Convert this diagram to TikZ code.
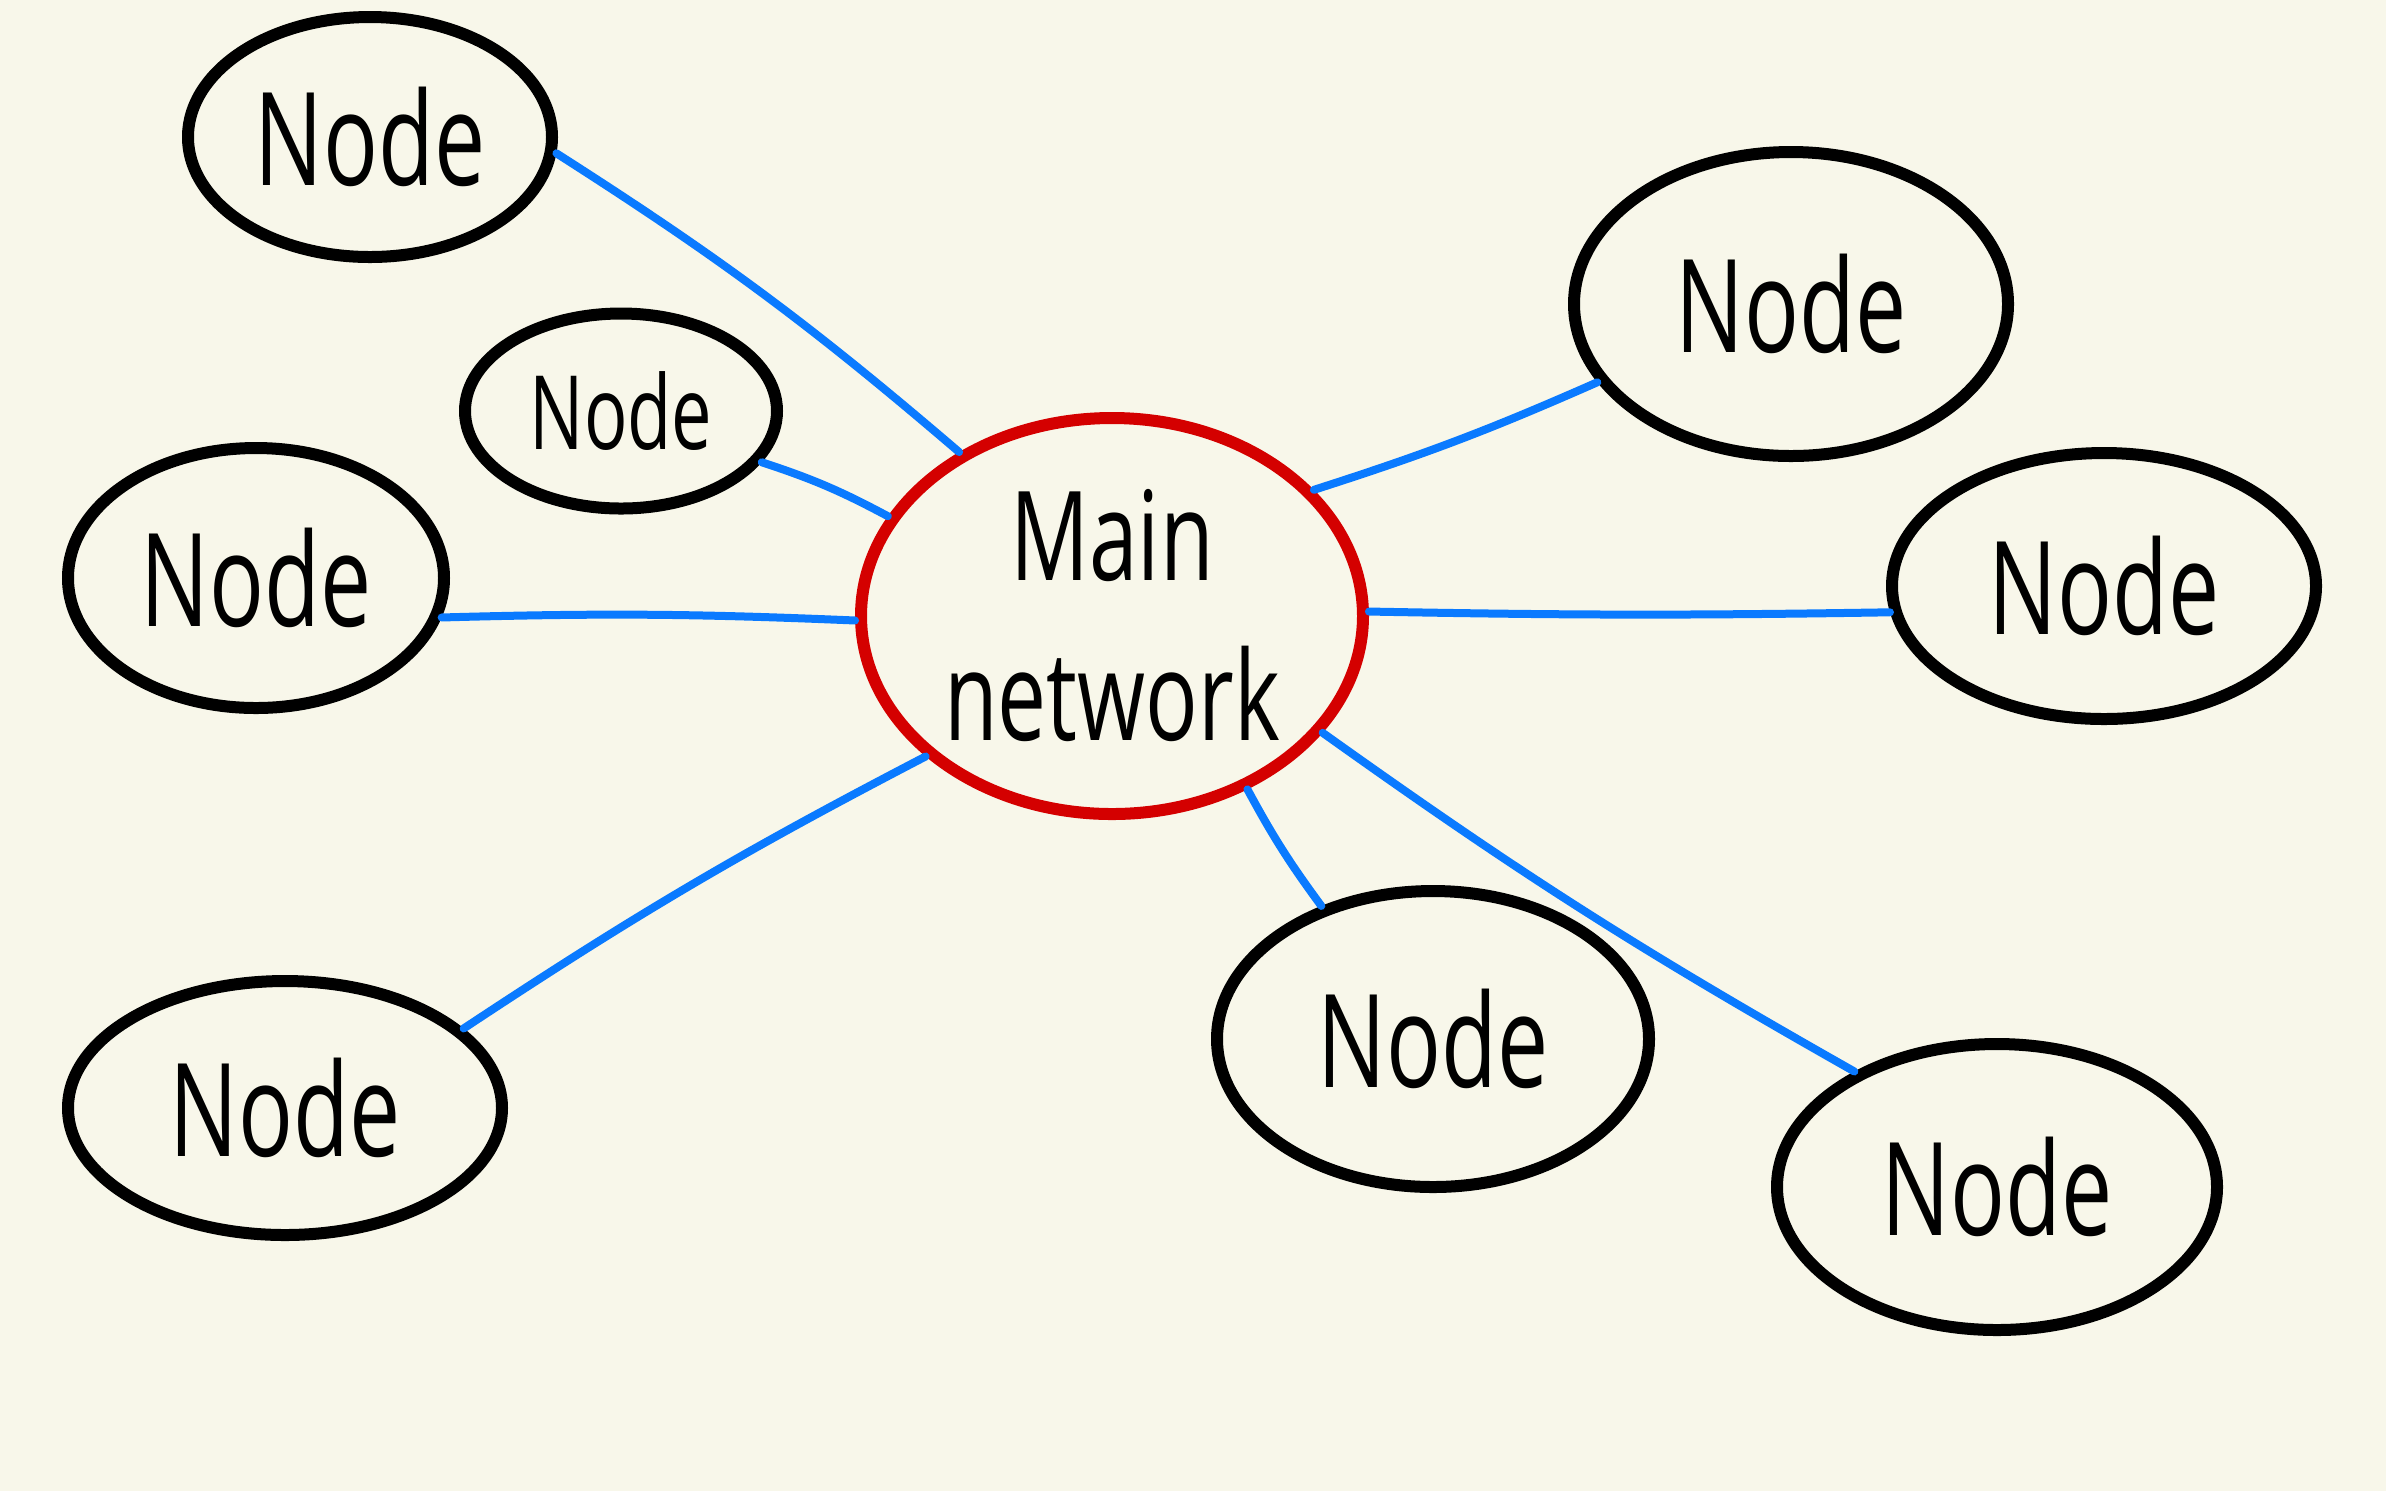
\documentclass[tikz,border=0pt]{standalone}
\usepackage{fontspec}
\setmainfont{Open Sans}
\usetikzlibrary{shapes.geometric}
\definecolor{bgc}{HTML}{F8F7EA}
\definecolor{redc}{HTML}{D40000}
\definecolor{bluec}{HTML}{0A7AFF}
\newcommand{\tallt}[1]{\scalebox{0.95}[1.35]{#1}}
\tikzset{
  nd/.style={ellipse, draw=black, line width=3pt, inner sep=0pt, font=\fontsize{24}{28}\selectfont},
  mainnd/.style={ellipse, draw=redc, line width=3pt, inner sep=0pt, align=center, font=\fontsize{23}{40}\selectfont},
  link/.style={draw=bluec, line width=2pt, line cap=round}
}
\begin{document}
\begin{tikzpicture}[x=0.25pt,y=-0.25pt]
\fill[bgc] (0,0) rectangle (2386,1491);
\useasboundingbox (0,0) rectangle (2386,1491);
\node[mainnd, minimum width=125.5pt, minimum height=99pt] (main) at (1112,616) {\tallt{Main}\\\tallt{network}};
\node[nd, minimum width=91pt, minimum height=60pt] (n1) at (370,137) {\tallt{Node}};
\node[nd, minimum width=78pt, minimum height=48.75pt, font=\fontsize{19}{22}\selectfont] (n2) at (621,411) {\tallt{Node}};
\node[nd, minimum width=94pt, minimum height=65pt] (n3) at (256,578) {\tallt{Node}};
\node[nd, minimum width=108.5pt, minimum height=63.5pt] (n4) at (285,1108) {\tallt{Node}};
\node[nd, minimum width=108pt, minimum height=74pt] (n5) at (1433,1039) {\tallt{Node}};
\node[nd, minimum width=110pt, minimum height=71.5pt] (n6) at (1997,1187) {\tallt{Node}};
\node[nd, minimum width=108.5pt, minimum height=76pt] (n7) at (1791,304) {\tallt{Node}};
\node[nd, minimum width=106pt, minimum height=66.5pt] (n8) at (2104,586) {\tallt{Node}};
\draw[link] (n1.-5) to[bend left=4] (main.133);
\draw[link] (n2.-20) to[bend left=5] (main.156);
\draw[link] (n3.-12) to[bend left=2] (main.181);
\draw[link] (n4.24) to[bend left=3] (main.217);
\draw[link] (n5.130) to[bend left=4] (main.308);
\draw[link] (n6.141) to[bend left=3] (main.331);
\draw[link] (n7.202) to[bend left=3] (main.32);
\draw[link] (n8.187) to[bend left=1] (main.1);
\end{tikzpicture}
\end{document}
